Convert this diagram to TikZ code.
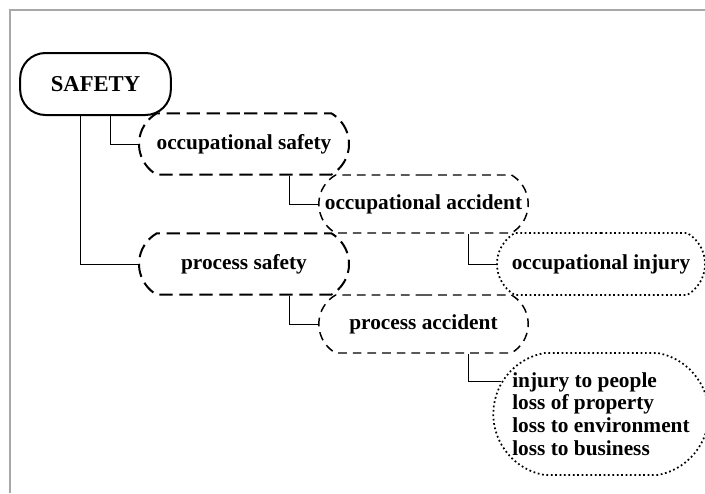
\documentclass[tikz,border=0pt]{standalone}
\usepackage{fontspec}
\setmainfont{Liberation Serif}
\usepackage{tikz}
\usetikzlibrary{shapes.misc}
\definecolor{framegray}{RGB}{168, 168, 168}

\tikzset{
    every node/.style={inner sep=1pt, font=\bfseries\fontsize{16}{17}\selectfont},
    rootbox/.style={draw, line width=1.5pt, rounded corners=19pt, minimum width=113pt, minimum height=46.5pt, font=\bfseries\fontsize{17}{18}\selectfont},
    ovalbox/.style={draw, rounded rectangle, rounded rectangle arc length=120, inner xsep=-9pt},
    safetybox/.style={ovalbox, line width=1.5pt, dash pattern=on 10pt off 5pt, minimum width=139.5pt, minimum height=46pt},
    accidentbox/.style={ovalbox, line width=1.1pt, dash pattern=on 6.5pt off 4.5pt, minimum width=139pt, minimum height=43.5pt},
    harmbox/.style={ovalbox, line width=1.3pt, dotted, minimum width=138pt, minimum height=46.5pt},
    link/.style={line width=0.75pt}
}

\begin{document}
\begin{tikzpicture}[x=0.75pt, y=-0.75pt]
            \useasboundingbox (0, 0) rectangle (705, 493);
            % Frame
            \draw[framegray, line width=1.5pt]                                (10, 493) -- (10, 10) -- (705, 10);
            % Boxes
            \node[rootbox]                              (safety)        at ( 95.5,  84) {SAFETY};
            \node[safetybox]                            (occsafety)     at (244.0, 144) {occupational safety};
            \node[accidentbox]                          (occaccident)   at (423.5, 204) {occupational accident};
            \node[harmbox]                              (occinjury)     at (601.0, 264) {occupational injury};
            \node[safetybox]                            (procsafety)    at (244.0, 264) {process safety};
            \node[accidentbox]                          (procaccident)  at (423.5, 324) {process accident};
            \node[harmbox, rounded rectangle arc length=160, minimum width=143.5pt, minimum height=91.5pt, align=left]
                                                        (losses)        at (601.0, 414) {injury to people\\loss of property\\loss to environment\\loss to business};
            % Links
            \draw[link] ([xshift= 10.9pt]safety.south)       |- (occsafety.west);
            \draw[link] ([xshift=-11.6pt]safety.south)       |- (procsafety.west);
            \draw[link] ([xshift= 33.75pt]occsafety.south)   |- (occaccident.west);
            \draw[link] ([xshift= 33.75pt]occaccident.south) |- (occinjury.west);
            \draw[link] ([xshift= 33.75pt]procsafety.south)  |- (procaccident.west);
            \draw[link] ([xshift= 33.75pt]procaccident.south) |- (losses.162);
        \end{tikzpicture}
\end{document}
